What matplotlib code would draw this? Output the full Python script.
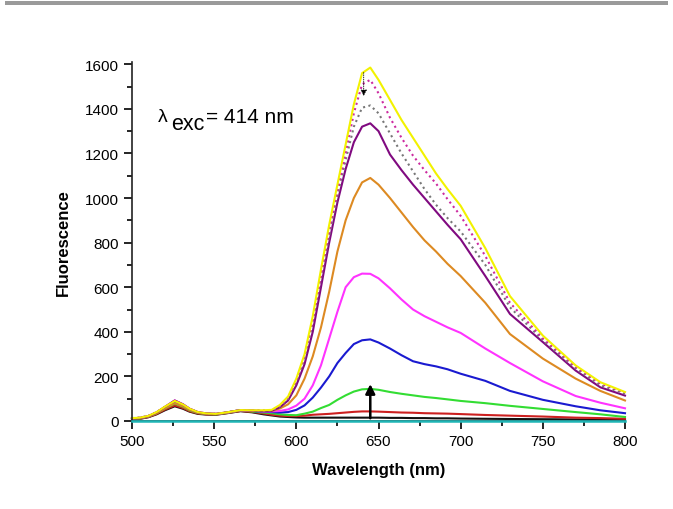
import numpy as np
import matplotlib
matplotlib.use('Agg')
import matplotlib.pyplot as plt
from matplotlib.ticker import MultipleLocator

plt.rcParams['font.family'] = ['Liberation Sans', 'DejaVu Sans']

# ── Data ──
wavelength = [500, 505, 510, 515, 520, 526, 531, 535, 540, 545, 551, 558, 566, 573, 580,
              585, 590, 595, 600, 605, 610, 615, 620, 625, 630, 635, 640, 645, 650,
              657, 664, 671, 678, 685, 692, 700, 715, 730, 750, 770, 785, 800]

teal = [0] * len(wavelength)
black = [8, 10, 17, 30, 48, 66, 55, 42, 32, 29, 28, 35, 44, 39, 30,
         25, 20, 18, 16, 15, 15, 15, 15, 15, 15, 15, 15, 15, 15,
         14, 14, 13, 13, 12, 12, 11, 10, 9, 8, 7, 6, 5]
red = [9, 11, 18, 32, 51, 70, 58, 44, 34, 30, 29, 36, 45, 41, 34,
       28, 24, 22, 22, 24, 28, 30, 32, 35, 38, 41, 43, 43, 42,
       40, 38, 37, 35, 34, 33, 31, 27, 24, 20, 15, 13, 10]
green = [10, 12, 20, 35, 56, 78, 64, 48, 36, 32, 30, 37, 47, 43, 38,
         35, 30, 27, 26, 33, 42, 58, 72, 95, 115, 132, 142, 144, 140,
         130, 122, 115, 108, 103, 97, 90, 80, 68, 54, 40, 30, 18]
blue = [11, 13, 21, 37, 60, 86, 70, 52, 38, 33, 31, 38, 48, 45, 41,
        40, 38, 40, 50, 70, 105, 150, 200, 260, 305, 345, 362, 366, 352,
        325, 295, 268, 255, 245, 232, 212, 180, 135, 95, 66, 48, 35]
magenta = [12, 14, 22, 39, 63, 92, 75, 55, 40, 34, 32, 38, 48, 46, 43,
           43, 45, 52, 69, 100, 160, 250, 370, 490, 600, 645, 661, 660, 640,
           595, 545, 500, 470, 445, 420, 395, 325, 260, 178, 112, 82, 57]
orange = [11, 13, 20, 35, 57, 80, 66, 50, 37, 32, 31, 38, 48, 46, 44,
          45, 56, 75, 115, 190, 290, 420, 580, 760, 900, 1000, 1070, 1090, 1060,
          1000, 935, 870, 810, 760, 705, 650, 530, 390, 280, 190, 135, 92]
purple = [12, 14, 22, 39, 63, 92, 75, 55, 40, 34, 32, 39, 49, 47, 45,
          46, 62, 92, 160, 255, 400, 600, 800, 980, 1130, 1250, 1320, 1335, 1300,
          1195, 1125, 1060, 1000, 940, 880, 815, 650, 480, 354, 226, 151, 114]
gray_dot = [13, 15, 23, 39, 62, 88, 72, 54, 40, 34, 32, 39, 49, 48, 46,
            47, 66, 100, 175, 280, 440, 640, 830, 1010, 1170, 1320, 1405, 1415, 1380,
            1290, 1200, 1120, 1040, 970, 910, 850, 700, 510, 362, 235, 160, 122]
pink_dot = [13, 15, 23, 40, 63, 90, 73, 55, 40, 34, 32, 39, 49, 48, 47,
            48, 68, 105, 180, 290, 450, 650, 850, 1030, 1200, 1380, 1510, 1530, 1470,
            1360, 1270, 1190, 1125, 1065, 995, 920, 740, 530, 370, 242, 168, 127]
yellow = [13, 15, 23, 40, 64, 90, 74, 55, 40, 34, 32, 39, 49, 48, 48,
          50, 72, 110, 190, 300, 470, 680, 880, 1060, 1240, 1420, 1560, 1585, 1530,
          1440, 1350, 1270, 1190, 1110, 1040, 965, 775, 560, 383, 249, 174, 130]

series = [
    (black, '#111111', '-'),
    (red, '#cc2020', '-'),
    (green, '#33dd33', '-'),
    (blue, '#1a1ad0', '-'),
    (magenta, '#ff33ff', '-'),
    (orange, '#dd8a22', '-'),
    (purple, '#800a80', '-'),
    (gray_dot, '#777777', ':'),
    (pink_dot, '#cc2aa0', ':'),
    (yellow, '#f2f200', '-'),
]

W, H = 673, 510
fig = plt.figure(figsize=(W / 100, H / 100), dpi=100)
fig.patch.set_facecolor('white')

# grey strip across the top of the slide
fig.add_artist(plt.Rectangle((5 / W, 1 - 6 / H), 663 / W, 4 / H,
                             transform=fig.transFigure, color='#9a9a9a', lw=0))

ax = fig.add_axes([132 / W, 1 - 422 / H, 493 / W, 359 / H])
for vals, col, ls in series:
    ax.plot(wavelength, vals, color=col, linestyle=ls, lw=1.5, clip_on=False)
# baseline trace sits on top of the x axis
ax.plot(wavelength, teal, color='#1fb5b5', lw=1.8, clip_on=False, zorder=3)

# arrows showing the trend
ax.annotate('', xy=(645, 178), xytext=(645, 0),
            arrowprops=dict(arrowstyle='-|>', color='black', lw=1.8, mutation_scale=14))
ax.annotate('', xy=(641, 1445), xytext=(641, 1575),
            arrowprops=dict(arrowstyle='-|>', color='black', lw=0.6, mutation_scale=9,
                            linestyle=':'))

# λexc label: lambda, lowered "exc", then the value
fig.text(158 / W, 1 - 122 / H, 'λ', fontsize=14)
fig.text(171 / W, 1 - 130 / H, 'exc', fontsize=15.5)
fig.text(206 / W, 1 - 123 / H, '= 414 nm', fontsize=15)

ax.set_xlim(500, 800)
ax.set_ylim(0, 1610)
ax.xaxis.set_major_locator(MultipleLocator(50))
ax.xaxis.set_minor_locator(MultipleLocator(25))
ax.yaxis.set_major_locator(MultipleLocator(200))
ax.yaxis.set_minor_locator(MultipleLocator(100))
ax.tick_params(which='major', direction='out', length=6, width=1.2, labelsize=11)
ax.tick_params(which='minor', direction='out', length=3.5, width=1.2)

for side in ['top', 'right']:
    ax.spines[side].set_visible(False)
for side in ['left', 'bottom']:
    ax.spines[side].set_linewidth(1.2)
    ax.spines[side].set_color('#222222')

ax.set_xlabel('Wavelength (nm)', fontsize=12, fontweight='bold', labelpad=10)
ax.set_ylabel('Fluorescence', fontsize=12, fontweight='bold', labelpad=10)

fig.savefig('out.png', dpi=100)
